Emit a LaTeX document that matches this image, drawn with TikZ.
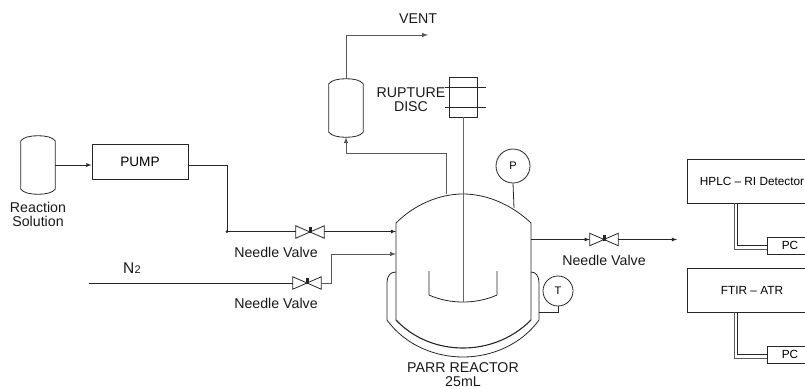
\documentclass[tikz,border=0pt]{standalone}
\usepackage{fontspec}
\setmainfont{Liberation Sans}
\usetikzlibrary{arrows,positioning}
\tikzset{
  line/.style={draw=black!85, line width=0.8pt},
  flow/.style={line, -latex},
  pipe/.style={draw=black!65, line width=1pt},
  label/.style={font=\fontsize{14.2}{15}\selectfont, inner sep=0pt, text=black!90},
  box/.style={draw=black!85, line width=0.9pt, inner sep=0pt, font=\fontsize{13.6}{15}\selectfont},
  smallbox/.style={box, font=\fontsize{11.8}{13}\selectfont},
  gauge/.style={circle, draw=black!85, line width=0.8pt, inner sep=0pt, font=\fontsize{11}{13}\selectfont},
  valve/.style={inner sep=0pt, minimum width=28pt, minimum height=12pt},
  drum/.style={inner sep=0pt, minimum width=34pt, minimum height=58pt}
}
% bow tie valve body with its stem
\newcommand{\valvebody}[1]{
  \draw[line] (#1.north west) -- (#1.south east) -- (#1.north east) -- (#1.south west) -- cycle;
  \fill[black!85] (#1.center) ++(-1.5,1) rectangle ++(3,-6);
}
% upright drum with dished ends
\newcommand{\drumbody}[1]{
  \draw[line] ([yshift=-5pt]#1.north west) .. controls ([xshift=3pt,yshift=-1.5pt]#1.north west) and ([xshift=-9pt]#1.north) .. (#1.north)
    .. controls ([xshift=9pt]#1.north) and ([xshift=-3pt,yshift=-1.5pt]#1.north east) .. ([yshift=-5pt]#1.north east)
    -- ([yshift=5pt]#1.south east) .. controls ([xshift=-3pt,yshift=1.5pt]#1.south east) and ([xshift=9pt]#1.south) .. (#1.south)
    .. controls ([xshift=-9pt]#1.south) and ([xshift=3pt,yshift=1.5pt]#1.south west) .. ([yshift=5pt]#1.south west) -- cycle;
}
\begin{document}
\begin{tikzpicture}[x=1pt, y=-1pt]
  \useasboundingbox (0,0) rectangle (805,388);
  \clip (0,0) rectangle (805,388);
  % Define nodes
  \node[drum] (feed) at (38,165) {};
  \node[label, align=center] (feedtxt) at (38,214.5) {Reaction\\[-0.5pt]Solution};
  \node[box, minimum width=96pt, minimum height=35pt] (pump) at (140,161.5) {PUMP};
  \node[drum] (catch) at (346,108) {};
  \node[label] (vent) at (418,19) {VENT};
  \node[draw=black!85, line width=0.8pt, minimum width=28pt, minimum height=40pt, inner sep=0pt] (disc) at (463,97) {};
  \node[label, align=center] (disctxt) at (411,100) {RUPTURE\\[-1pt]DISC};
  \node[gauge, minimum size=34pt] (pgauge) at (513,166) {P};
  \node[gauge, minimum size=30pt] (tgauge) at (558,291) {T};
  \node[valve] (valvea) at (310,232) {};
  \node[valve] (valveb) at (307,283) {};
  \node[valve] (valvec) at (604,239.5) {};
  \node[label] (valveatxt) at (276,252.5) {Needle Valve};
  \node[label] (valvebtxt) at (276,303.5) {Needle Valve};
  \node[label] (valvectxt) at (604,260.5) {Needle Valve};
  \node[label, font=\fontsize{15.5}{17}\selectfont] (nitro) at (132,268) {N\kern0.3pt{\fontsize{11}{12}\selectfont 2}};
  \node[label, align=center] (parr) at (463,374.5) {PARR REACTOR\\[-1.5pt]25mL};
  \node[smallbox, minimum width=130pt, minimum height=44pt] (hplc) at (752,181) {HPLC -- RI Detector};
  \node[smallbox, minimum width=130pt, minimum height=44pt] (ftir) at (752,290) {FTIR -- ATR};
  \node[smallbox, minimum width=46pt, minimum height=17pt] (pca) at (790,245.5) {PC};
  \node[smallbox, minimum width=46pt, minimum height=17pt] (pcb) at (790,354.5) {PC};
  \coordinate (ventend) at (428,35);
  \coordinate (shaftend) at (463,302);
  \coordinate (tee) at (227,231.5);
  \coordinate (n2start) at (89,283);
  \coordinate (feeda) at (396,231.5);
  \coordinate (feedb) at (396,254);
  \coordinate (outa) at (531,239.5);
  \coordinate (outb) at (677,239.5);
  \coordinate (topa) at (446,194);
  \coordinate (topb) at (514,208);
  \coordinate (jacket) at (539,312);
  \coordinate (elbow) at (346,153);
  \coordinate (bend) at (331,254);
  % Draw the equipment
  \drumbody{feed}
  \drumbody{catch}
  \valvebody{valvea}
  \valvebody{valveb}
  \valvebody{valvec}
  \draw[line] (445,87) -- (486,87);
  \draw[line] (445,107) -- (486,107);
  % reactor, jacket and impeller
  \draw[line] (396,320) -- (396,223) .. controls (415,204) and (440,194) .. (463,194)
    .. controls (486,194) and (511,204) .. (531,223) -- (531,320);
  \draw[line, line width=1.1pt] (396,320) .. controls (415,340) and (440,348) .. (463,348)
    .. controls (486,348) and (511,340) .. (531,320);
  \draw[line] (396,272) .. controls (390,272) and (387,276) .. (387,283) -- (387,320)
    .. controls (405,345) and (435,357) .. (463,357)
    .. controls (491,357) and (521,345) .. (539,320) -- (539,283)
    .. controls (539,276) and (536,272) .. (531,272);
  \draw[line] (429,271) -- (429,295) .. controls (440,300) and (452,302) .. (463,302)
    .. controls (474,302) and (486,300) .. (497,295) -- (497,271);
  % Connect the nodes
  \draw[flow] (feed.east |- 0,165) -- (pump.west |- 0,165);
  \draw[line] (pump.east |- 0,165) -| (tee);
  \fill[black!85] (tee) circle (1.5);
  \draw[line] (tee) -- (valvea.west |- tee);
  \draw[flow] (valvea.east |- tee) -- (feeda);
  \draw[line] (n2start) -- (valveb.west);
  \draw[pipe] (valveb.east) -| (bend);
  \draw[pipe, -latex] (bend) -- (feedb);
  \draw[flow] (outa) -- (valvec.west);
  \draw[flow] (valvec.east) -- (outb);
  \draw[pipe] (topa) |- (elbow);
  \draw[pipe, -latex] (elbow) -- (catch.south);
  \draw[pipe, -latex] (catch.north) |- (ventend);
  \draw[pipe, draw=black!60] (disc.south) -- (shaftend);
  \draw[line] (pgauge.south) -- (topb);
  \draw[line] (tgauge.south) |- (jacket);
  \draw[pipe, line width=0.9pt] (734,203) |- ([yshift=-3.5pt]pca.west);
  \draw[line] (737,203) |- (pca.west);
  \draw[pipe, line width=0.9pt] (734,312) |- ([yshift=-3.5pt]pcb.west);
  \draw[line] (737,312) |- (pcb.west);
\end{tikzpicture}
\end{document}
